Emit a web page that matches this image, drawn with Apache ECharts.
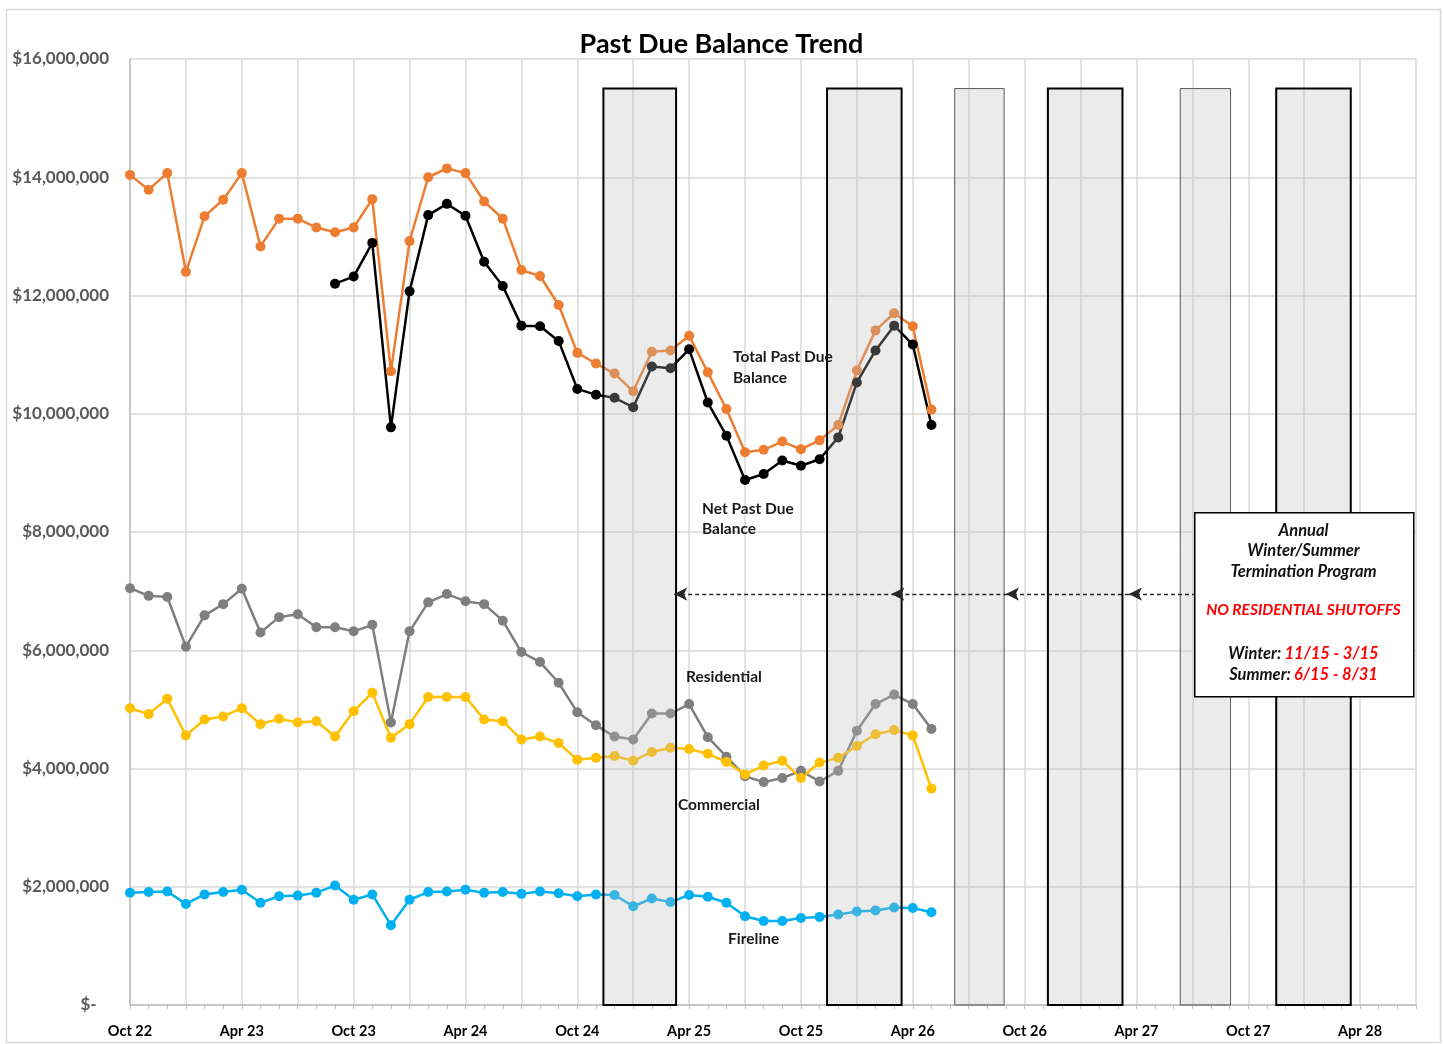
<!DOCTYPE html>
<html>
<head>
<meta charset="utf-8">
<title>Past Due Balance Trend</title>
<script src="https://cdn.jsdelivr.net/npm/echarts@6/dist/echarts.min.js"></script>
<style>
  html, body { margin: 0; padding: 0; background: #fff; }
  #chart { width: 1443px; height: 1044px; }
</style>
</head>
<body>
<div id="chart"></div>
<script>
// x is a month offset, 0 = Oct 22
var tickLabels = ["Oct 22", "Apr 23", "Oct 23", "Apr 24", "Oct 24", "Apr 25",
  "Oct 25", "Apr 26", "Oct 26", "Apr 27", "Oct 27", "Apr 28"];

var totalPastDue = [14040000, 13790000, 14070000, 12400000, 13340000, 13620000, 14070000,
  12830000, 13300000, 13300000, 13150000, 13070000, 13150000, 13630000, 10720000,
  12920000, 14000000, 14150000, 14070000, 13590000, 13300000, 12430000, 12330000,
  11840000, 11030000, 10850000, 10680000, 10380000, 11050000, 11070000, 11320000,
  10700000, 10080000, 9350000, 9390000, 9530000, 9400000, 9550000, 9810000,
  10730000, 11410000, 11700000, 11480000, 10070000];

var netPastDue = [null, null, null, null, null, null, null, null, null, null, null,
  12200000, 12320000, 12890000, 9770000, 12070000, 13360000, 13550000, 13350000,
  12570000, 12160000, 11490000, 11480000, 11230000, 10420000, 10320000, 10270000,
  10110000, 10800000, 10770000, 11090000, 10190000, 9630000, 8880000, 8980000,
  9210000, 9120000, 9230000, 9600000, 10530000, 11070000, 11490000, 11170000, 9810000];

var residential = [7050000, 6920000, 6900000, 6060000, 6590000, 6780000, 7040000,
  6300000, 6560000, 6610000, 6390000, 6390000, 6320000, 6430000, 4780000, 6320000,
  6810000, 6950000, 6830000, 6780000, 6500000, 5970000, 5800000, 5450000, 4950000,
  4730000, 4540000, 4490000, 4930000, 4930000, 5090000, 4530000, 4200000, 3870000,
  3770000, 3840000, 3960000, 3780000, 3960000, 4640000, 5090000, 5250000, 5090000,
  4670000];

var commercial = [5020000, 4920000, 5180000, 4560000, 4830000, 4880000, 5020000,
  4750000, 4840000, 4780000, 4800000, 4540000, 4970000, 5280000, 4520000, 4750000,
  5210000, 5210000, 5210000, 4830000, 4800000, 4490000, 4540000, 4430000, 4150000,
  4180000, 4210000, 4130000, 4280000, 4350000, 4330000, 4250000, 4110000, 3900000,
  4050000, 4130000, 3840000, 4100000, 4180000, 4380000, 4580000, 4650000, 4560000,
  3660000];

var fireline = [1900000, 1910000, 1920000, 1710000, 1870000, 1910000, 1950000,
  1730000, 1840000, 1850000, 1900000, 2020000, 1780000, 1870000, 1350000, 1780000,
  1910000, 1920000, 1950000, 1900000, 1910000, 1880000, 1920000, 1890000, 1840000,
  1870000, 1860000, 1670000, 1800000, 1740000, 1860000, 1830000, 1730000, 1500000,
  1420000, 1420000, 1470000, 1490000, 1530000, 1580000, 1600000, 1650000, 1640000,
  1570000];

// termination program windows, month offsets [start, end]
var winterPeriods = [[25.4, 29.3], [37.4, 41.4], [49.25, 53.25], [61.5, 65.5]];
var summerPeriods = [[44.25, 46.9], [56.35, 59.05]];
var periodTop = 15500000;

// dashed pointer from the note box back to the windows
var arrowLevel = 6950000;
var arrowStops = [29.2, 40.85, 47.0, 53.6, 57.1];

var FONT = "Lato, 'Liberation Sans', sans-serif";

function toPairs(arr) {
  return arr.map(function (v, i) { return [i, v]; });
}

function lineSeries(name, data, color) {
  return {
    name: name,
    type: "line",
    data: toPairs(data),
    z: 2,
    symbol: "circle",
    symbolSize: 10,
    showSymbol: true,
    connectNulls: false,
    lineStyle: { color: color, width: 2.5 },
    itemStyle: { color: color },
  };
}

var periodData = winterPeriods.map(function (p) { return [p[0], p[1], periodTop, 1]; })
  .concat(summerPeriods.map(function (p) { return [p[0], p[1], periodTop, 0]; }));

var arrowLines = [];
for (var i = 0; i < arrowStops.length - 1; i++) {
  arrowLines.push([{ coord: [arrowStops[i], arrowLevel] }, { coord: [arrowStops[i + 1], arrowLevel] }]);
}

var chart = echarts.init(document.getElementById("chart"));

var fireSeries = lineSeries("Fireline", fireline, "#00B0F0");
fireSeries.markLine = {
  silent: true,
  z: 6,
  symbol: ["arrow", "none"],
  symbolSize: [10, 13],
  label: { show: false },
  lineStyle: { color: "#262626", type: [4, 3], width: 1.3 },
  data: arrowLines,
};

var boxFont = "italic bold 16.5px " + FONT;

var options = {
  animation: false,
  backgroundColor: "#ffffff",
  title: {
    text: "Past Due Balance Trend",
    left: "center",
    top: 26,
    textStyle: { fontFamily: FONT, fontSize: 27, fontWeight: "bold", color: "#000" },
  },
  grid: {
    left: 130,
    right: 27,
    top: 59,
    bottom: 39,
    containLabel: false,
    outerBoundsMode: "none",
  },
  xAxis: {
    type: "value",
    min: 0,
    max: 69,
    interval: 3,
    axisLine: { show: true, lineStyle: { color: "#BFBFBF", width: 1.5 } },
    axisTick: { show: true, length: 4, lineStyle: { color: "#BFBFBF" } },
    minorTick: { show: true, splitNumber: 3, length: 4, lineStyle: { color: "#BFBFBF" } },
    splitLine: { show: true, lineStyle: { color: "#D9D9D9", width: 1.5 } },
    axisLabel: {
      margin: 19,
      fontFamily: FONT,
      fontSize: 14.5,
      fontWeight: "bold",
      color: "#000",
      showMaxLabel: false,
      formatter: function (v) {
        return v % 6 === 0 ? tickLabels[v / 6] : "";
      },
    },
  },
  yAxis: {
    type: "value",
    min: 0,
    max: 16000000,
    interval: 2000000,
    axisLine: { show: true, lineStyle: { color: "#BFBFBF", width: 1.5 } },
    axisTick: { show: false },
    splitLine: { show: true, lineStyle: { color: "#D9D9D9", width: 1.5 } },
    axisLabel: {
      margin: 21,
      fontFamily: FONT,
      fontSize: 17,
      fontWeight: "bold",
      color: "#595959",
      formatter: function (v) {
        return v === 0 ? "$-   " : "$" + v.toLocaleString("en-US");
      },
    },
  },
  series: [
    lineSeries("Total Past Due Balance", totalPastDue, "#ED7D31"),
    lineSeries("Net Past Due Balance", netPastDue, "#000000"),
    lineSeries("Residential", residential, "#7F7F7F"),
    lineSeries("Commercial", commercial, "#FFC000"),
    fireSeries,
    {
      name: "Termination Program",
      type: "custom",
      z: 3,
      silent: true,
      encode: { x: [0, 1], y: 2 },
      data: periodData,
      renderItem: function (params, api) {
        var p0 = api.coord([api.value(0), api.value(2)]);
        var p1 = api.coord([api.value(1), 0]);
        var winter = api.value(3) === 1;
        return {
          type: "rect",
          shape: { x: p0[0], y: p0[1], width: p1[0] - p0[0], height: p1[1] - p0[1] },
          style: {
            fill: "rgba(190,190,190,0.3)",
            stroke: winter ? "#000000" : "#595959",
            lineWidth: winter ? 2 : 1,
          },
        };
      },
    },
  ],
  graphic: [
    // outer chart border
    {
      type: "rect",
      left: 4,
      top: 7,
      z: -1,
      silent: true,
      shape: { width: 1434, height: 1033 },
      style: { fill: "none", stroke: "#D9D9D9", lineWidth: 1.5 },
    },
    {
      type: "text", left: 733, top: 346, z: 20,
      style: { text: "Total Past Due\nBalance", font: "bold 15.5px " + FONT, fill: "#1a1a1a", lineHeight: 21 },
    },
    {
      type: "text", left: 702, top: 499, z: 20,
      style: { text: "Net Past Due\nBalance", font: "bold 15.5px " + FONT, fill: "#1a1a1a", lineHeight: 20 },
    },
    {
      type: "text", left: 686, top: 669, z: 20,
      style: { text: "Residential", font: "bold 15.5px " + FONT, fill: "#1a1a1a" },
    },
    {
      type: "text", left: 678, top: 797, z: 20,
      style: { text: "Commercial", font: "bold 15.5px " + FONT, fill: "#1a1a1a" },
    },
    {
      type: "text", left: 728, top: 931, z: 20,
      style: { text: "Fireline", font: "bold 15.5px " + FONT, fill: "#1a1a1a" },
    },
    // note box
    {
      type: "rect",
      left: 1194,
      top: 512,
      z: 100,
      zlevel: 1,
      shape: { width: 219, height: 184 },
      style: { fill: "#ffffff", stroke: "#000000", lineWidth: 1.5 },
    },
    {
      type: "text",
      x: 1303.5,
      y: 520,
      z: 101,
      zlevel: 1,
      style: {
        text: "Annual\nWinter/Summer\nTermination Program",
        align: "center",
        font: boxFont,
        fill: "#111",
        lineHeight: 20.5,
      },
    },
    {
      type: "text",
      x: 1303.5,
      y: 602,
      z: 101,
      zlevel: 1,
      style: {
        text: "NO RESIDENTIAL SHUTOFFS",
        align: "center",
        font: "italic bold 15.5px " + FONT,
        fill: "#FF0000",
      },
    },
    {
      type: "text",
      x: 1303.5,
      y: 643,
      z: 101,
      zlevel: 1,
      style: {
        text: "{k|Winter:} {v|11/15 - 3/15}\n{k|Summer:} {v|6/15 - 8/31}",
        align: "center",
        lineHeight: 21,
        rich: {
          k: { font: boxFont, fill: "#111", lineHeight: 21 },
          v: { font: boxFont, fill: "#FF0000", lineHeight: 21 },
        },
      },
    },
  ],
};

chart.setOption(options, true);
</script>
</body>
</html>
